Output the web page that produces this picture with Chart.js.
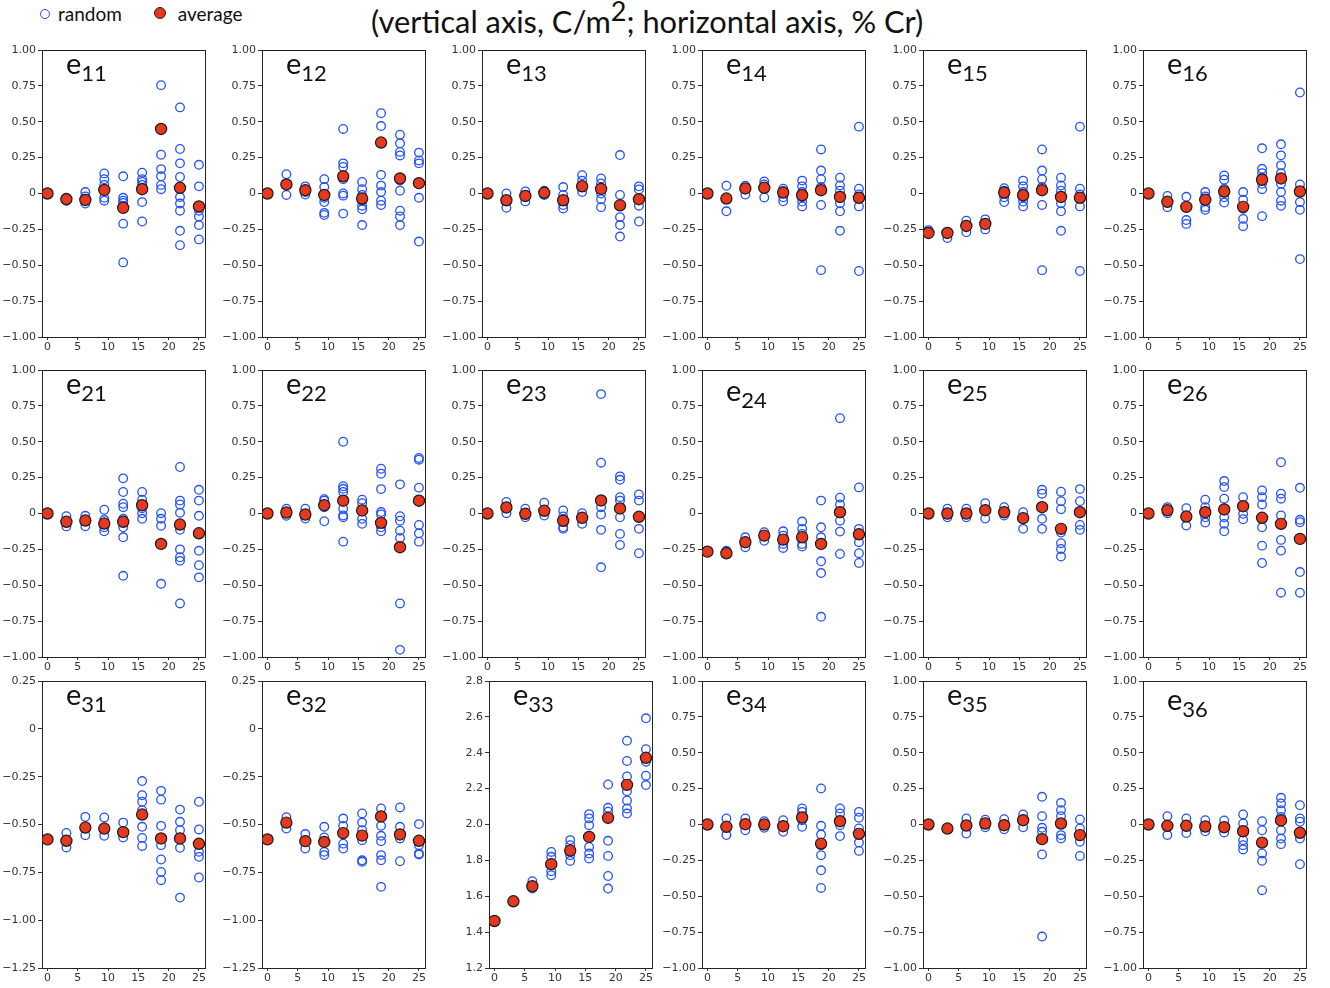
<!DOCTYPE html>
<html>
<head>
<meta charset="utf-8">
<script src="https://cdn.jsdelivr.net/npm/chart.js@4.4.1/dist/chart.umd.min.js"></script>
<style>
  body { margin: 0; width: 1330px; height: 988px; background: #fff; position: relative; overflow: hidden; font-family: "Lato", sans-serif; }
  .panel { position: absolute; }
  .lbl { position: absolute; font-family: "Lato", sans-serif; font-size: 29px; color: #111; line-height: 1; white-space: nowrap; }
  .lbl sub { font-size: 22px; vertical-align: -7px; }
  #title { position: absolute; left: 371px; top: 5px; font-size: 30.8px; color: #111; white-space: nowrap; line-height: 1.1; }
  #title sup { font-size: 27px; vertical-align: 12px; line-height: 0; }
  #legend { position: absolute; left: 40px; top: 2px; font-size: 19px; color: #111; white-space: nowrap; }
  .dot { display: inline-block; box-sizing: border-box; width: 10px; height: 10px; border-radius: 50%; vertical-align: 2px; margin-right: 8px; }
</style>
</head>
<body>
<div id="legend">
  <span class="dot" style="border:1.4px solid #2050ff"></span>random
  <span class="dot" style="margin-left:27px;margin-right:12px;background:#e4381f;border:1.2px solid #222;width:12px;height:12px"></span>average
</div>
<div id="title">(vertical axis, C/m<sup>2</sup>; horizontal axis, % Cr)</div>
<script>
// composition (% Cr) of the 9 sampled points
const xPos = [0, 3.125, 6.25, 9.375, 12.5, 15.625, 18.75, 21.875, 25];
const xTicks = [0, 5, 10, 15, 20, 25];
const yTicksUnit = [-1, -0.75, -0.5, -0.25, 0, 0.25, 0.5, 0.75, 1];
const yTicksLow = [-1.25, -1, -0.75, -0.5, -0.25, 0, 0.25];
const yTicksE33 = [1.2, 1.4, 1.6, 1.8, 2.0, 2.2, 2.4, 2.6, 2.8];

// row 1
const e11Avg = [0, -0.04, -0.045, 0.025, -0.10, 0.03, 0.45, 0.04, -0.09];
const e11Rand = [[0], [-0.03, -0.05], [0.01, -0.02, -0.05, -0.07], [0.14, 0.10, 0.06, 0.02, -0.03, -0.05], [0.12, -0.03, -0.05, -0.065, -0.085, -0.21, -0.48], [0.145, 0.10, 0.08, 0.06, -0.06, -0.195], [0.755, 0.27, 0.17, 0.12, 0.06, 0.03], [0.60, 0.31, 0.21, 0.115, -0.025, -0.07, -0.12, -0.26, -0.36], [0.20, 0.05, -0.12, -0.16, -0.22, -0.32]];
const e12Avg = [0, 0.063, 0.023, -0.01, 0.12, -0.035, 0.355, 0.105, 0.072];
const e12Rand = [[0], [0.135, -0.01], [0.05, 0.01, -0.007], [0.10, 0.045, -0.03, -0.06, -0.135, -0.15], [0.45, 0.21, 0.185, 0.10, 0, -0.015, -0.14], [0.08, 0.03, -0.01, -0.05, -0.085, -0.11, -0.22], [0.56, 0.47, 0.13, 0.055, 0.01, -0.05, -0.08], [0.41, 0.35, 0.29, 0.265, 0.09, 0.02, -0.12, -0.16, -0.22], [0.285, 0.23, 0.21, -0.03, -0.335]];
const e13Avg = [0, -0.047, -0.017, 0.005, -0.047, 0.05, 0.032, -0.082, -0.04];
const e13Rand = [[0], [0, -0.10], [0.015, -0.025, -0.055], [0.02, -0.01], [0.045, -0.01, -0.05, -0.08, -0.105], [0.128, 0.09, 0.045, 0.01], [0.105, 0.07, 0, -0.04, -0.095], [0.268, -0.01, -0.08, -0.165, -0.22, -0.30], [0.05, 0.028, -0.085, -0.195]];
const e14Avg = [0, -0.035, 0.035, 0.04, 0.007, -0.012, 0.023, -0.024, -0.03];
const e14Rand = [[0], [0.054, -0.124], [0.054, -0.007], [0.084, 0.063, -0.028], [0.033, 0.016, -0.026, -0.054], [0.09, 0.05, 0.01, -0.026, -0.056, -0.09], [0.307, 0.16, 0.10, 0.045, -0.08, -0.534], [0.11, 0.056, 0.02, -0.025, -0.068, -0.124, -0.26], [0.466, 0.033, -0.007, -0.09, -0.54]];
const e15Avg = [-0.275, -0.275, -0.226, -0.212, 0.007, -0.012, 0.023, -0.024, -0.03];
const e15Rand = [[-0.255], [-0.31], [-0.19, -0.27], [-0.18, -0.25], [0.037, 0.02, -0.026, -0.06], [0.09, 0.05, 0.01, -0.026, -0.056, -0.09], [0.307, 0.16, 0.10, 0.045, -0.08, -0.534], [0.11, 0.056, 0.02, -0.025, -0.068, -0.124, -0.26], [0.466, 0.033, -0.007, -0.09, -0.54]];
const e16Avg = [0, -0.058, -0.093, -0.044, 0.014, -0.093, 0.096, 0.105, 0.014];
const e16Rand = [[0], [-0.017, -0.095], [-0.023, -0.185, -0.212], [0.01, -0.02, -0.095, -0.114], [0.126, 0.096, 0.033, -0.026, -0.063], [0.01, -0.044, -0.107, -0.177, -0.228], [0.315, 0.172, 0.142, 0.11, 0.068, 0.03, -0.158], [0.343, 0.266, 0.196, 0.142, 0.068, 0.01, -0.05, -0.086], [0.704, 0.063, -0.06, -0.114, -0.457]];

// row 2
const e21Avg = [0, -0.058, -0.049, -0.07, -0.058, 0.058, -0.212, -0.077, -0.138];
const e21Rand = [[0], [-0.019, -0.09], [-0.016, -0.089], [0.026, -0.044, -0.096, -0.124], [0.245, 0.15, 0.068, 0.044, -0.037, -0.096, -0.166, -0.434], [0.15, 0.096, 0.037, 0.002, -0.037], [0.002, -0.037, -0.086, -0.49], [0.324, 0.09, 0.063, 0.005, -0.114, -0.25, -0.305, -0.33, -0.627], [0.165, 0.09, -0.016, -0.26, -0.36, -0.445]];
const e22Avg = [0, 0.007, -0.007, 0.058, 0.089, 0.021, -0.065, -0.235, 0.089];
const e22Rand = [[0], [0.033, -0.016], [0.033, -0.035], [0.10, 0.09, 0.044, -0.054], [0.50, 0.19, 0.172, 0.15, 0.033, -0.014, -0.026, -0.196], [0.096, 0.072, -0.037, -0.072], [0.312, 0.277, 0.17, 0.01, -0.007, -0.096, -0.124], [0.203, -0.019, -0.05, -0.12, -0.17, -0.627, -0.95], [0.387, 0.375, 0.18, -0.08, -0.138, -0.196]];
const e23Avg = [0, 0.042, -0.002, 0.019, -0.051, -0.03, 0.091, 0.035, -0.023];
const e23Rand = [[0], [0.08, 0.002], [0.033, -0.026], [0.075, -0.014], [0.021, -0.021, -0.06, -0.096, -0.107], [0.002, -0.072], [0.832, 0.354, 0.044, -0.007, -0.114, -0.375], [0.259, 0.235, 0.114, 0.09, -0.026, -0.142, -0.219], [0.133, 0.09, -0.107, -0.277]];
const e24Avg = [-0.266, -0.277, -0.2, -0.154, -0.182, -0.166, -0.212, 0.009, -0.145];
const e24Rand = [[-0.266], [-0.26], [-0.166, -0.235], [-0.13, -0.19], [-0.124, -0.154, -0.212, -0.24], [-0.056, -0.107, -0.142, -0.212, -0.23], [0.09, -0.096, -0.166, -0.333, -0.415, -0.72], [0.664, 0.11, 0.063, -0.05, -0.126, -0.282], [0.182, -0.107, -0.2, -0.277, -0.345]];
const e25Avg = [0, 0, 0, 0.023, 0.009, -0.033, 0.044, -0.107, 0.009];
const e25Rand = [[0], [0.033, -0.026], [0.033, -0.026], [0.072, -0.035], [0.044, -0.014], [0.009, -0.107], [0.165, 0.138, 0.044, -0.037, -0.107], [0.152, 0.086, 0.03, -0.133, -0.207, -0.247, -0.3], [0.17, 0.086, -0.08, -0.114]];
const e26Avg = [0, 0.023, -0.021, 0.009, 0.028, 0.051, -0.03, -0.072, -0.177];
const e26Rand = [[0], [0.044, 0.002], [0.037, -0.084], [0.096, 0.044, -0.026, -0.063], [0.226, 0.184, 0.103, 0.033, -0.026, -0.072, -0.124], [0.114, -0.002, -0.04], [0.161, 0.114, 0.063, -0.096, -0.224, -0.345], [0.357, 0.138, 0.103, -0.014, -0.184, -0.259, -0.552], [0.179, -0.044, -0.061, -0.408, -0.552]];

// row 3
const e31Avg = [-0.578, -0.585, -0.516, -0.521, -0.54, -0.448, -0.573, -0.573, -0.601];
const e31Rand = [[-0.578], [-0.544, -0.62], [-0.46, -0.556], [-0.463, -0.559], [-0.49, -0.568], [-0.273, -0.347, -0.381, -0.425, -0.512, -0.57, -0.612], [-0.324, -0.37, -0.507, -0.608, -0.683, -0.748, -0.791], [-0.422, -0.486, -0.53, -0.622, -0.882], [-0.381, -0.526, -0.643, -0.669, -0.777]];
const e32Avg = [-0.578, -0.49, -0.587, -0.591, -0.545, -0.558, -0.458, -0.552, -0.585];
const e32Rand = [[-0.578], [-0.462, -0.521], [-0.55, -0.626], [-0.512, -0.568, -0.643, -0.66], [-0.469, -0.507, -0.6, -0.626], [-0.442, -0.49, -0.53, -0.582, -0.687, -0.695], [-0.416, -0.507, -0.559, -0.587, -0.66, -0.687, -0.826], [-0.411, -0.512, -0.573, -0.692], [-0.498, -0.608, -0.652, -0.657]];
const e33Avg = [1.462, 1.572, 1.656, 1.779, 1.855, 1.931, 2.037, 2.221, 2.372];
const e33Rand = [[1.462], [1.572], [1.684, 1.643], [1.847, 1.82, 1.773, 1.74, 1.717], [1.913, 1.885, 1.829, 1.797], [2.058, 2.034, 1.996, 1.875, 1.838, 1.81], [2.223, 2.093, 2.071, 1.909, 1.825, 1.713, 1.643], [2.467, 2.354, 2.268, 2.186, 2.134, 2.089, 2.061], [2.592, 2.42, 2.35, 2.272, 2.22]];
const e34Avg = [0, -0.016, 0.002, 0, -0.012, 0.049, -0.133, 0.023, -0.065];
const e34Rand = [[0], [0.042, -0.074], [0.042, -0.04], [0.023, -0.023], [0.03, -0.051], [0.112, 0.088, 0.03, -0.016], [0.251, -0.009, -0.07, -0.144, -0.214, -0.319, -0.442], [0.112, 0.077, -0.005, -0.081], [0.088, 0.047, -0.028, -0.126, -0.184]];
const e35Avg = [0, -0.028, -0.007, 0.007, -0.005, 0.03, -0.102, 0.007, -0.074];
const e35Rand = [[0], [-0.028], [0.042, -0.063], [0.033, -0.019], [0.037, -0.033], [0.07, -0.019], [0.193, 0.058, -0.023, -0.051, -0.209, -0.781], [0.151, 0.1, 0.058, -0.074, -0.098], [0.035, -0.028, -0.121, -0.219]];
const e36Avg = [0, -0.009, -0.009, -0.014, -0.019, -0.047, -0.126, 0.028, -0.058];
const e36Rand = [[0], [0.058, -0.074], [0.042, -0.06], [0.03, -0.047], [0.028, -0.056], [0.07, 0.007, -0.109, -0.144, -0.174], [0.023, -0.04, -0.202, -0.253, -0.458], [0.186, 0.147, 0.1, 0.053, -0.04, -0.098, -0.137], [0.135, 0.042, 0.019, -0.098, -0.277]];

const panels = [
  { name: '11', avg: e11Avg, rand: e11Rand, row: 0, col: 0 },
  { name: '12', avg: e12Avg, rand: e12Rand, row: 0, col: 1 },
  { name: '13', avg: e13Avg, rand: e13Rand, row: 0, col: 2 },
  { name: '14', avg: e14Avg, rand: e14Rand, row: 0, col: 3 },
  { name: '15', avg: e15Avg, rand: e15Rand, row: 0, col: 4 },
  { name: '16', avg: e16Avg, rand: e16Rand, row: 0, col: 5 },
  { name: '21', avg: e21Avg, rand: e21Rand, row: 1, col: 0 },
  { name: '22', avg: e22Avg, rand: e22Rand, row: 1, col: 1 },
  { name: '23', avg: e23Avg, rand: e23Rand, row: 1, col: 2 },
  { name: '24', avg: e24Avg, rand: e24Rand, row: 1, col: 3, labelDy: 7 },
  { name: '25', avg: e25Avg, rand: e25Rand, row: 1, col: 4 },
  { name: '26', avg: e26Avg, rand: e26Rand, row: 1, col: 5 },
  { name: '31', avg: e31Avg, rand: e31Rand, row: 2, col: 0, yTicks: yTicksLow },
  { name: '32', avg: e32Avg, rand: e32Rand, row: 2, col: 1, yTicks: yTicksLow },
  { name: '33', avg: e33Avg, rand: e33Rand, row: 2, col: 2, yTicks: yTicksE33, digits: 1, dx: 7 },
  { name: '34', avg: e34Avg, rand: e34Rand, row: 2, col: 3 },
  { name: '35', avg: e35Avg, rand: e35Rand, row: 2, col: 4 },
  { name: '36', avg: e36Avg, rand: e36Rand, row: 2, col: 5, labelDy: 5 }
];

// layout of the grid
const colLeft = [42, 262, 482, 702, 923, 1143];
const rowTop = [50, 370, 681];
const plotW = 163, plotH = 287;
const axisW = 46, padTop = 10, padRight = 12, axisH = 22;

const tickFont = { family: 'DejaVu Sans', size: 11 };

const framePlugin = {
  id: 'frame',
  beforeDatasetsDraw(chart) {
    const a = chart.chartArea, ctx = chart.ctx;
    ctx.save();
    ctx.strokeStyle = '#222';
    ctx.lineWidth = 1;
    ctx.strokeRect(Math.round(a.left) + 0.5, Math.round(a.top) + 0.5, Math.round(a.right - a.left), Math.round(a.bottom - a.top));
    ctx.restore();
  }
};

function fmt(v, digits) {
  if (Math.abs(v) < 1e-9) return '0';
  const s = Math.abs(v).toFixed(digits);
  return v < 0 ? '\u2212' + s : s;
}

panels.forEach(p => {
  const left = colLeft[p.col] + (p.dx || 0);
  const top = rowTop[p.row];
  const yTicks = p.yTicks || yTicksUnit;
  const digits = p.digits || 2;

  const box = document.createElement('div');
  box.className = 'panel';
  box.style.left = (left - axisW) + 'px';
  box.style.top = (top - padTop) + 'px';
  const canvas = document.createElement('canvas');
  canvas.width = axisW + plotW + padRight;
  canvas.height = padTop + plotH + axisH;
  box.appendChild(canvas);
  document.body.appendChild(box);

  const lbl = document.createElement('div');
  lbl.className = 'lbl';
  lbl.style.left = (left + 24) + 'px';
  lbl.style.top = (top - 2 + (p.labelDy || 0)) + 'px';
  lbl.innerHTML = 'e<sub>' + p.name + '</sub>';
  document.body.appendChild(lbl);

  const randPts = [];
  p.rand.forEach((ys, i) => ys.forEach(y => randPts.push({ x: xPos[i], y: y })));
  const avgPts = p.avg.map((y, i) => ({ x: xPos[i], y: y }));

  new Chart(canvas, {
    type: 'scatter',
    data: {
      datasets: [
        {
          label: 'average',
          data: avgPts,
          pointRadius: 5.6,
          pointBackgroundColor: '#e4381f',
          pointBorderColor: '#1a1a1a',
          pointBorderWidth: 1.2,
          order: 0
        },
        {
          label: 'random',
          data: randPts,
          pointRadius: 4.3,
          pointBackgroundColor: 'rgba(0,0,0,0)',
          pointBorderColor: '#2050ff',
          pointBorderWidth: 1.3,
          order: 1
        }
      ]
    },
    options: {
      responsive: false,
      animation: false,
      devicePixelRatio: 1,
      layout: { padding: { top: padTop, right: padRight, left: 0, bottom: 0 } },
      plugins: { legend: { display: false }, tooltip: { enabled: false } },
      scales: {
        x: {
          type: 'linear',
          min: -0.9,
          max: 26,
          afterBuildTicks: s => { s.ticks = xTicks.map(v => ({ value: v })); },
          afterFit: s => { s.height = axisH; },
          grid: { drawOnChartArea: false, tickLength: 3, color: '#333' },
          border: { display: false },
          ticks: { font: tickFont, color: '#333', padding: 1, maxRotation: 0, autoSkip: false, callback: v => String(v) }
        },
        y: {
          type: 'linear',
          min: yTicks[0],
          max: yTicks[yTicks.length - 1],
          afterBuildTicks: s => { s.ticks = yTicks.map(v => ({ value: v })); },
          afterFit: s => { s.width = axisW; },
          grid: { drawOnChartArea: false, tickLength: 4, color: '#333' },
          border: { display: false },
          ticks: { font: tickFont, color: '#333', padding: 2, autoSkip: false, callback: v => fmt(v, digits) }
        }
      }
    },
    plugins: [framePlugin]
  });
});
</script>
</body>
</html>
